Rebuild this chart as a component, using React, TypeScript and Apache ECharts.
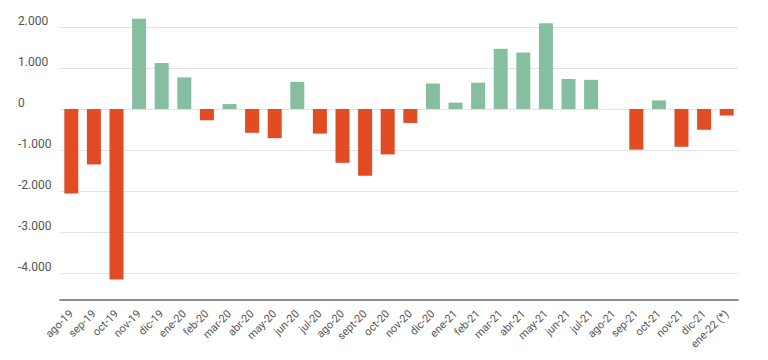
import React, { useEffect, useRef } from "react";
import * as echarts from "echarts";

const categories = [
  "ago-19", "sep-19", "oct-19", "nov-19", "dic-19", "ene-20", "feb-20", "mar-20", "abr-20", "may-20",
  "jun-20", "jul-20", "ago-20", "sept-20", "oct-20", "nov-20", "dic-20", "ene-21", "feb-21", "mar-21",
  "abr-21", "may-21", "jun-21", "jul-21", "ago-21", "sep-21", "oct-21", "nov-21", "dic-21", "ene-22 (*)",
];

const values: (number | null)[] = [
  -2060, -1350, -4150, 2200, 1120, 770, -275, 120, -580, -710,
  660, -600, -1310, -1625, -1105, -340, 620, 155, 640, 1465,
  1375, 2090, 730, 710, null, -990, 210, -920, -505, -160,
];

const yTicks = [-4000, -3000, -2000, -1000, 0, 1000, 2000];

const POS = "#86bf9f";
const NEG = "#e24c25";

function fmt(v: number): string {
  const s = Math.abs(v).toString().replace(/\B(?=(\d{3})+(?!\d))/g, ".");
  return (v < 0 ? "-" : "") + s;
}

export default function App() {
  const ref = useRef<HTMLDivElement>(null);
  useEffect(() => {
    document.body.style.margin = "0";
    const chart = echarts.init(ref.current!, null, { renderer: "svg" });
    chart.setOption({
      animation: false,
      textStyle: { fontFamily: "Roboto" },
      grid: { left: 60, right: 30, top: 10, bottom: 60, containLabel: false },
      xAxis: {
        type: "category",
        data: categories,
        axisLine: { show: true, onZero: false, lineStyle: { color: "#666", width: 1.5 } },
        axisTick: { show: false },
        axisLabel: { interval: 0, rotate: 45, fontSize: 11, color: "#555", margin: 12 },
      },
      yAxis: {
        type: "value",
        min: -4650,
        max: 2410,
        axisLine: { show: false },
        axisTick: { show: false, customValues: yTicks },
        axisLabel: {
          customValues: yTicks,
          formatter: (v: number) => fmt(v),
          align: "left",
          verticalAlign: "bottom",
          margin: 42,
          fontSize: 12,
          color: "#555",
        },
        splitLine: { show: true, lineStyle: { color: "#e3e3e3", width: 1 } },
      },
      series: [
        {
          type: "bar",
          barWidth: 14,
          data: values.map((v) =>
            v === null ? null : { value: v, itemStyle: { color: v >= 0 ? POS : NEG } }
          ),
        },
      ],
    });
    return () => chart.dispose();
  }, []);
  return <div ref={ref} style={{ width: 768, height: 360 }} />;
}
